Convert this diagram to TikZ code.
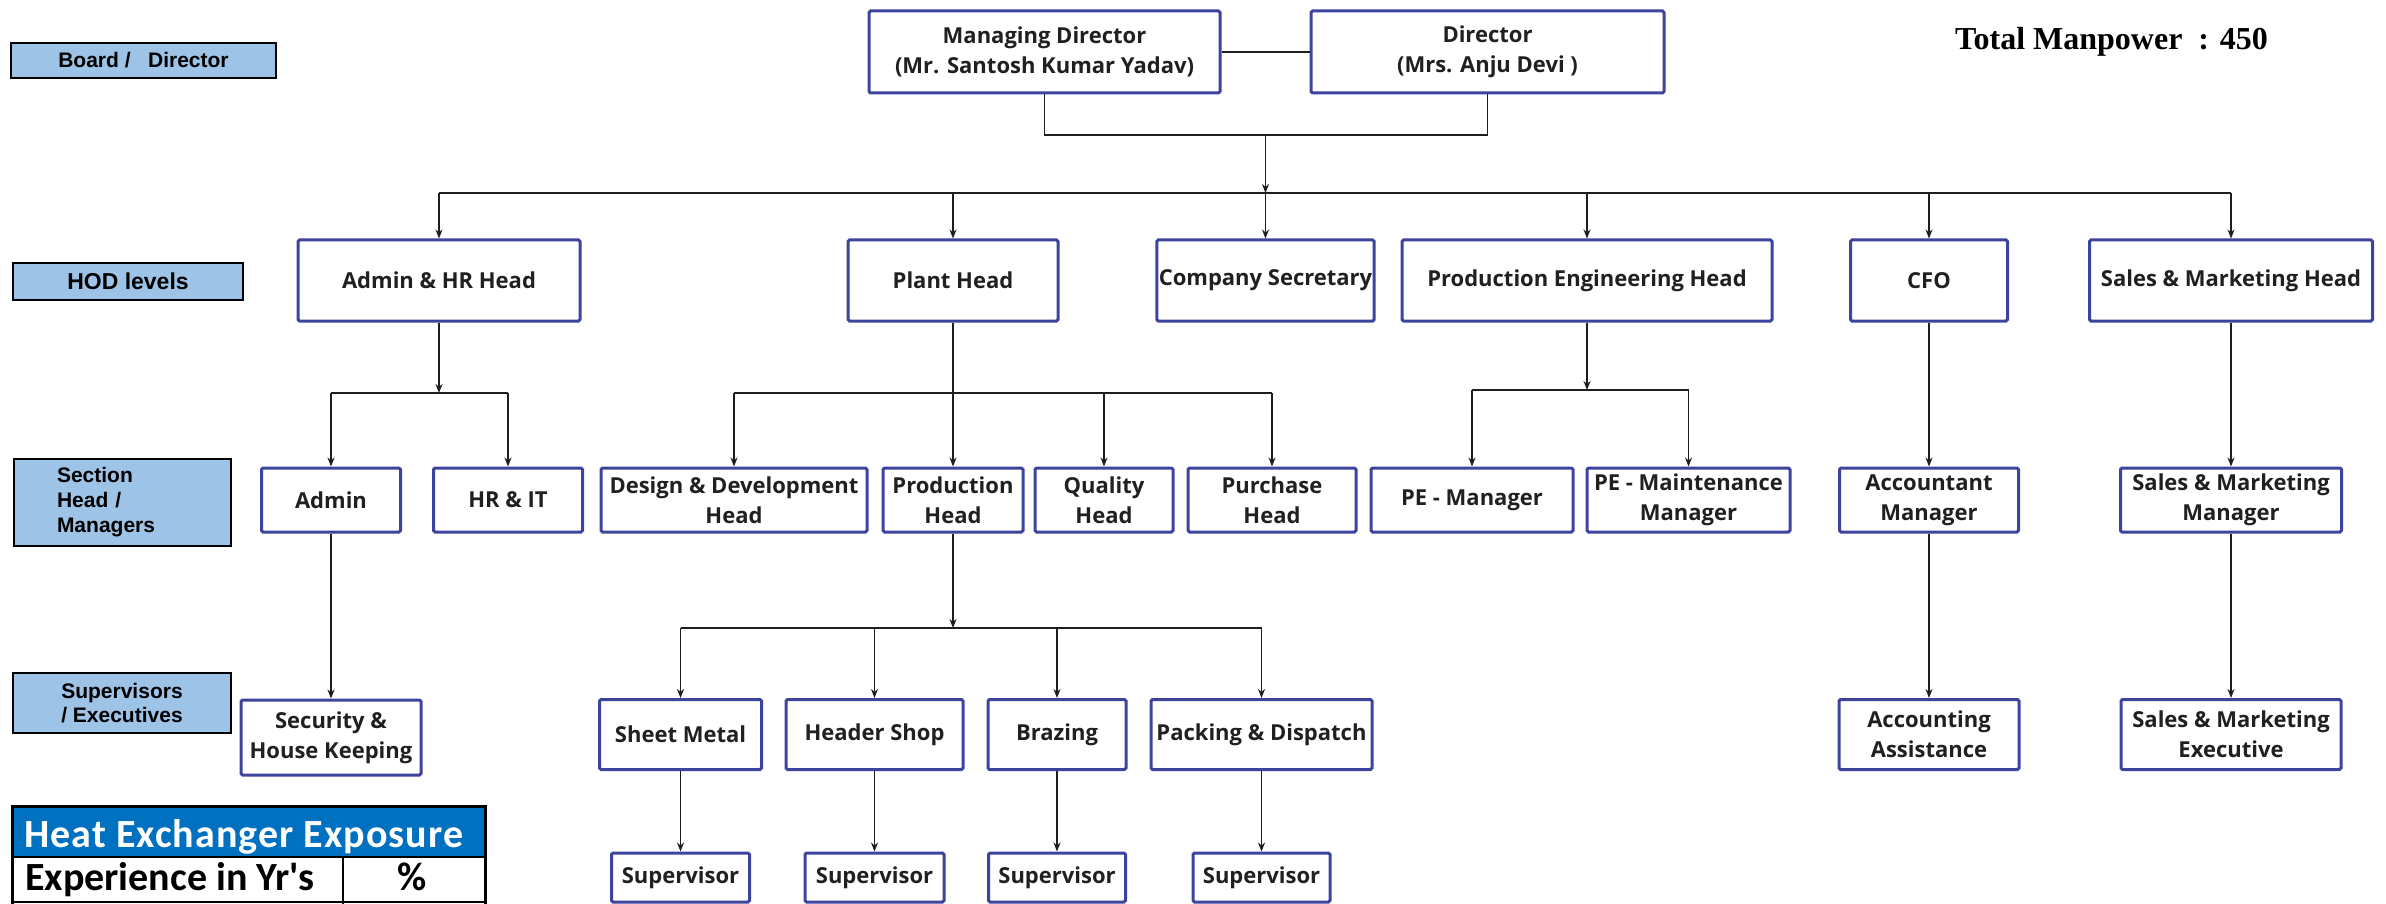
\documentclass[tikz,border=0pt]{standalone}
\usepackage{fontspec}
\setmainfont{Open Sans}
\newfontfamily\boxfont{Open Sans}
\newfontfamily\lblfont{Liberation Sans}
\newfontfamily\serfont{Liberation Serif}
\newfontfamily\calfont{Carlito}[Ligatures=TeXOff]
\newfontfamily\calwide{Carlito}[Ligatures=TeXOff, LetterSpace=2.6]
\usetikzlibrary{arrows.meta}
\definecolor{lblfill}{RGB}{157,195,230}
\definecolor{orgline}{RGB}{60,68,158}
\definecolor{txtgray}{RGB}{32,32,32}
\definecolor{tblue}{RGB}{0,112,192}
\definecolor{conncol}{RGB}{30,30,30}
\begin{document}
\begin{tikzpicture}[x=1pt,y=-1pt,
  orgbox/.style={draw=orgline, line width=3pt, fill=white, rounded corners=1.5pt,
    inner xsep=2pt, inner ysep=0pt, align=center, text=txtgray,
    font=\boxfont\bfseries\fontsize{22}{30}\selectfont},
  lblbox/.style={draw=black, line width=2pt, fill=lblfill, inner sep=0pt, align=center,
    font=\lblfont\bfseries\fontsize{21}{24}\selectfont},
  lvltwo/.style={orgbox, minimum height=81pt},
  lvlthree/.style={orgbox, minimum height=64pt},
  lvlfour/.style={orgbox, minimum height=70pt},
  lvlfive/.style={orgbox, minimum height=49pt},
  conn/.style={draw=conncol, line width=1.6pt},
  arr/.style={conn, -{Stealth[length=9pt,width=7pt]}},
  tbltext/.style={anchor=base west, inner sep=0pt, font=\calfont\bfseries\fontsize{40}{44}\selectfont},
]
\useasboundingbox (0,0) rectangle (2386,904);

% level labels
\node[lblbox, minimum width=265pt, minimum height=35pt] (lb1) at (143.5,60.5) {Board /\ \ \ Director};
\node[lblbox, minimum width=230pt, minimum height=37pt, font=\lblfont\bfseries\fontsize{23}{26}\selectfont] (lb2) at (128,281.5) {HOD levels};
\node[lblbox, minimum width=217pt, minimum height=87pt, align=left, text width=131pt, font=\lblfont\bfseries\fontsize{21}{25}\selectfont] (lb3) at (122.5,502.5) {Section\\Head /\\Managers};
\node[lblbox, minimum width=218pt, minimum height=60pt] (lb4) at (122,703) {Supervisors\\/ Executives};

% total manpower
\node[anchor=base west, inner sep=0pt, font=\serfont\bfseries\fontsize{32}{36}\selectfont] (tm) at (1955,50) {Total Manpower\ \ : 450};

% level 1
\node[orgbox, minimum width=351pt, minimum height=82pt] (md) at (1044.5,52) {Managing Director\\(Mr. Santosh Kumar Yadav)};
\node[orgbox, minimum width=353pt, minimum height=82pt] (dir) at (1487.5,52) {Director\\(Mrs. Anju Devi )};

% level 2
\node[lvltwo, minimum width=282pt] (adminhr) at (439,280.5) {Admin \& HR Head};
\node[lvltwo, minimum width=210pt] (plant) at (953,280.5) {Plant Head};
\node[lvltwo, minimum width=217pt] (cs) at (1265.5,280.5) {Company Secretary};
\node[lvltwo, minimum width=370pt] (pe) at (1587,280.5) {Production Engineering Head};
\node[lvltwo, minimum width=157pt] (cfo) at (1929,280.5) {CFO};
\node[lvltwo, minimum width=283pt] (smh) at (2231,280.5) {Sales \& Marketing Head};

% level 3
\node[lvlthree, minimum width=139pt] (admin) at (331,500) {Admin};
\node[lvlthree, minimum width=149pt] (hrit) at (508,500) {HR \& IT};
\node[lvlthree, minimum width=266pt] (dd) at (734,500) {Design \& Development\\Head};
\node[lvlthree, minimum width=140pt] (prod) at (953,500) {Production\\Head};
\node[lvlthree, minimum width=138pt] (qual) at (1104,500) {Quality\\Head};
\node[lvlthree, minimum width=168pt] (purch) at (1272,500) {Purchase\\Head};
\node[lvlthree, minimum width=202pt] (pem) at (1472,500) {PE - Manager};
\node[lvlthree, minimum width=203pt] (pemm) at (1688.5,500) {PE - Maintenance\\Manager};
\node[lvlthree, minimum width=179pt] (acct) at (1929,500) {Accountant\\Manager};
\node[lvlthree, minimum width=221pt] (smm) at (2231,500) {Sales \& Marketing\\Manager};

% level 4
\node[orgbox, minimum width=180pt, minimum height=75pt] (sec) at (331,737.5) {Security \&\\House Keeping};
\node[lvlfour, minimum width=162pt] (sheet) at (680.5,734.5) {Sheet Metal};
\node[lvlfour, minimum width=177pt] (header) at (874.5,734.5) {Header Shop};
\node[lvlfour, minimum width=138pt] (braz) at (1057,734.5) {Brazing};
\node[lvlfour, minimum width=221pt] (pack) at (1261.5,734.5) {Packing \& Dispatch};
\node[lvlfour, minimum width=180pt] (acca) at (1929,734.5) {Accounting\\Assistance};
\node[lvlfour, minimum width=220pt] (sme) at (2231,734.5) {Sales \& Marketing\\Executive};

% level 5
\node[lvlfive, minimum width=138pt] (sup1) at (680.5,877.5) {Supervisor};
\node[lvlfive, minimum width=139pt] (sup2) at (874.5,877.5) {Supervisor};
\node[lvlfive, minimum width=137pt] (sup3) at (1057,877.5) {Supervisor};
\node[lvlfive, minimum width=137pt] (sup4) at (1261.5,877.5) {Supervisor};

% connectors level 1 -> 2
\coordinate (jt) at (1265.5,135);
\coordinate (trunk) at (1265.5,193);
\draw[conn] (md) -- (dir);
\draw[conn] (md.south) |- (jt) -| (dir.south);
\draw[arr] (jt) -- (trunk);
\draw[conn] (trunk -| adminhr) -- (trunk -| smh);
\foreach \n in {adminhr,plant,pe,cfo,smh} \draw[arr] (trunk -| \n) -- (\n);
\draw[arr] (trunk) -- (cs);

% level 2 -> 3
\coordinate (ja) at (439,393);
\draw[arr] (adminhr) -- (ja);
\draw[conn] (ja -| admin) -- (ja -| hrit);
\foreach \n in {admin,hrit} \draw[arr] (ja -| \n) -- (\n);

\coordinate (jp) at (953,393);
\draw[arr] (plant) -- (prod);
\draw[conn] (jp -| dd) -- (jp -| purch);
\foreach \n in {dd,qual,purch} \draw[arr] (jp -| \n) -- (\n);

\coordinate (jpe) at (1587,390);
\draw[arr] (pe) -- (jpe);
\draw[conn] (jpe -| pem) -- (jpe -| pemm);
\foreach \n in {pem,pemm} \draw[arr] (jpe -| \n) -- (\n);

\draw[arr] (cfo) -- (acct);
\draw[arr] (smh) -- (smm);

% level 3 -> 4
\draw[arr] (admin) -- (sec);
\coordinate (jq) at (953,628);
\draw[arr] (prod) -- (jq);
\draw[conn] (jq -| sheet) -- (jq -| pack);
\foreach \n in {sheet,header,braz,pack} \draw[arr] (jq -| \n) -- (\n);
\draw[arr] (acct) -- (acca);
\draw[arr] (smm) -- (sme);

% level 4 -> 5
\draw[arr] (sheet) -- (sup1);
\draw[arr] (header) -- (sup2);
\draw[arr] (braz) -- (sup3);
\draw[arr] (pack) -- (sup4);

% table
\fill[tblue] (12,806) rectangle (485,857);
\draw[line width=2pt] (12,857) -- (485,857);
\draw[line width=1.5pt] (12,902) -- (485,902);
\draw[line width=1.5pt] (343,857) -- (343,904);
\draw[line width=3pt] (12,904) -- (12,806) -- (485,806) -- (485,904);
\node[tbltext, text=white, font=\calwide\bfseries\fontsize{40}{44}\selectfont] (th) at (24,847) {Heat Exchanger Exposure};
\node[tbltext] (tc1) at (25,890) {Experience in Yr's};
\node[tbltext, anchor=base] (tc2) at (412,890) {\%};
\end{tikzpicture}
\end{document}
